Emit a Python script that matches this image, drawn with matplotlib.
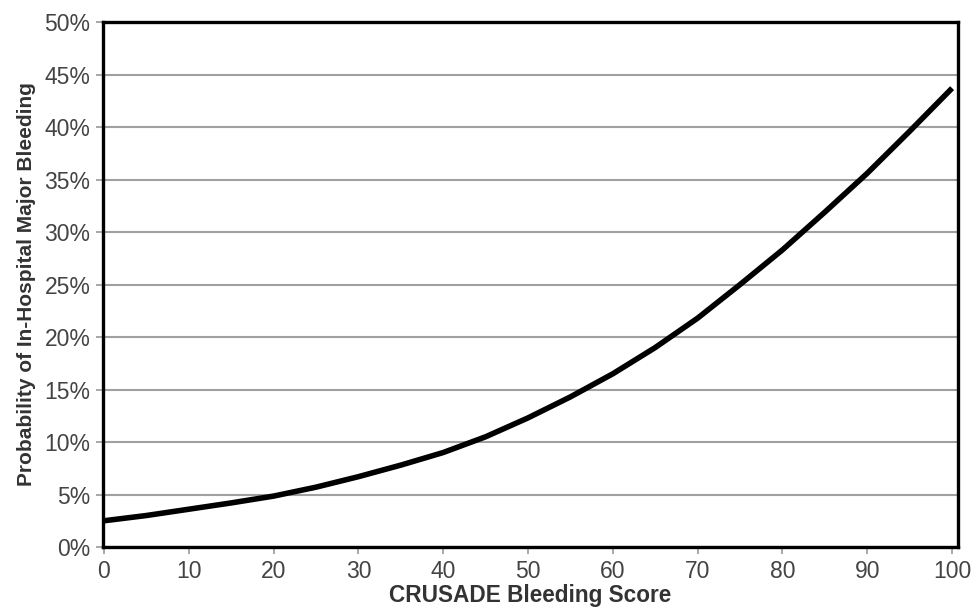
import matplotlib
matplotlib.use("Agg")
import matplotlib.pyplot as plt
from matplotlib.ticker import FuncFormatter

# Data
score = [0, 5, 10, 15, 20, 25, 30, 35, 40, 45, 50, 55, 60, 65, 70, 75, 80, 85, 90, 95, 100]
prob_pct = [2.5, 3.0, 3.6, 4.2, 4.85, 5.7, 6.7, 7.8, 9.0, 10.5, 12.3, 14.3, 16.5, 19.0,
            21.8, 25.0, 28.3, 31.9, 35.6, 39.6, 43.7]
x_ticks = [0, 10, 20, 30, 40, 50, 60, 70, 80, 90, 100]
y_ticks = [0, 5, 10, 15, 20, 25, 30, 35, 40, 45, 50]

plt.rcParams['font.family'] = ['Liberation Sans', 'DejaVu Sans']

fig = plt.figure(figsize=(9.77, 6.08), dpi=100)
ax = fig.add_axes([0.1054, 0.1003, 0.8752, 0.8635])

ax.set_xlim(-0.12, 100.7)
ax.set_ylim(0, 50)
ax.set_xticks(x_ticks)
ax.set_yticks(y_ticks)
ax.yaxis.set_major_formatter(FuncFormatter(lambda v, p: f"{int(v)}%"))

ax.grid(axis='y', color='#a0a0a0', linewidth=1.5)
ax.set_axisbelow(True)

ax.plot(score, prob_pct, color='black', linewidth=4.0, solid_capstyle='butt', zorder=3)

for s in ax.spines.values():
    s.set_linewidth(2.4)
    s.set_color('black')

ax.tick_params(axis='both', colors='#999999', labelcolor='#444444', labelsize=16.5,
               length=5, width=1.2)
ax.tick_params(axis='y', pad=4)
ax.tick_params(axis='x', pad=4)

ax.set_xlabel('CRUSADE Bleeding Score', fontsize=16.3, fontweight='bold', color='#333333', labelpad=1)
ax.set_ylabel('Probability of In-Hospital Major Bleeding', fontsize=15, fontweight='bold',
              color='#333333', labelpad=6)

fig.savefig('out.png', dpi=100, facecolor='white')
